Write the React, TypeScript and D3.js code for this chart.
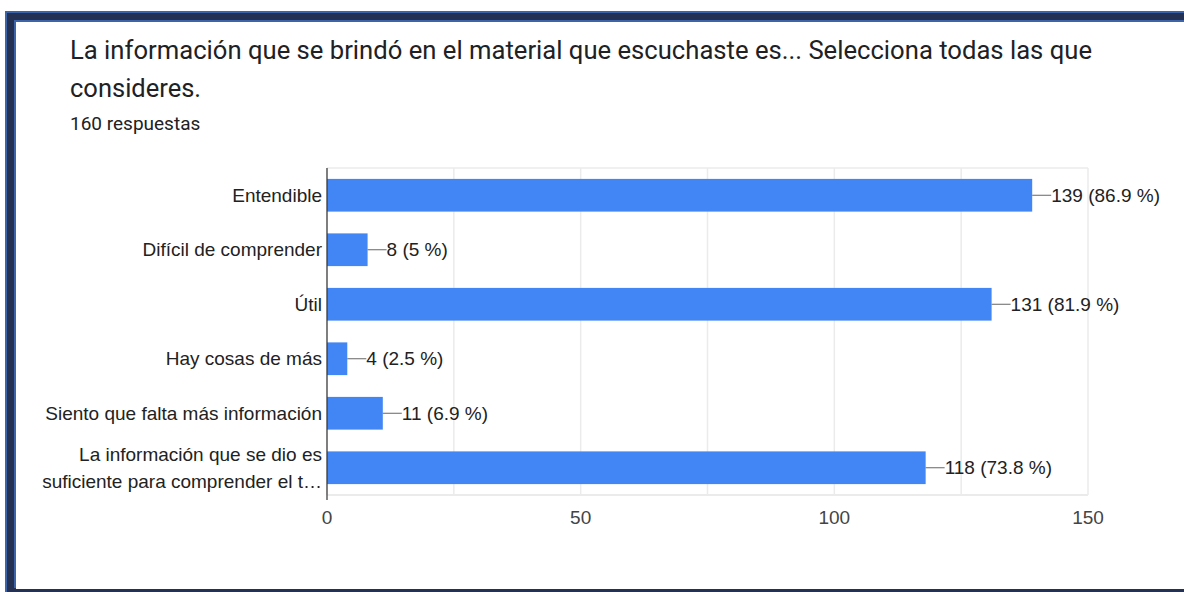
import React from "react";
import * as d3 from "d3";

const categories: string[][] = [
  ["Entendible"],
  ["Difícil de comprender"],
  ["Útil"],
  ["Hay cosas de más"],
  ["Siento que falta más información"],
  ["La información que se dio es", "suficiente para comprender el t…"],
];
const counts = [139, 8, 131, 4, 11, 118];
const percents = ["86.9", "5", "81.9", "2.5", "6.9", "73.8"];
const tickValues = [0, 50, 100, 150];
const gridValues = [0, 25, 50, 75, 100, 125, 150];
const titleLines = [
  "La información que se brindó en el material que escuchaste es... Selecciona todas las que",
  "consideres.",
];
const subtitle = "160 respuestas";

const W = 1184;
const H = 592;

export default function App() {
  const x = d3.scaleLinear().domain([0, 150]).range([327, 1088]);
  const y = d3
    .scaleBand<number>()
    .domain(d3.range(categories.length))
    .range([168, 495])
    .paddingInner(0.4)
    .paddingOuter(0.2);
  const labelFont = "Arial, 'Liberation Sans', sans-serif";
  const titleFont = "Roboto, 'Noto Sans', sans-serif";

  return (
    <svg
      width={W}
      height={H}
      style={{ position: "absolute", left: 0, top: 0, background: "#fff" }}
    >
      {/* frame */}
      <rect x={5} y={11} width={1200} height={590} fill="#3d63a8" />
      <rect x={7} y={13} width={1200} height={590} fill="#243152" />
      <rect x={14} y={20} width={1200} height={568} fill="#3d63a8" />
      <rect x={16} y={22} width={1200} height={567} fill="#ffffff" />

      {/* title */}
      <text
        x={70}
        y={59}
        fontFamily={titleFont}
        fontSize={25.5}
        fill="#202124"
        textLength={1022}
        lengthAdjust="spacingAndGlyphs"
      >
        {titleLines[0]}
      </text>
      <text x={70} y={97} fontFamily={titleFont} fontSize={25.5} fill="#202124">
        {titleLines[1]}
      </text>
      <text x={70} y={130} fontFamily={titleFont} fontSize={19} fill="#202124">
        {subtitle}
      </text>

      {/* gridlines */}
      {gridValues.map((v) => (
        <line
          key={v}
          x1={x(v)}
          x2={x(v)}
          y1={168}
          y2={495}
          stroke="#ebebeb"
          strokeWidth={1.5}
        />
      ))}
      <line x1={327} x2={x(150)} y1={168} y2={168} stroke="#ebebeb" strokeWidth={1.5} />
      <line x1={327} x2={x(150)} y1={495} y2={495} stroke="#ebebeb" strokeWidth={2} />

      {/* bars */}
      {counts.map((c, i) => {
        const by = y(i)!;
        const bh = y.bandwidth();
        const xe = x(c);
        const cy = by + bh / 2;
        return (
          <g key={i}>
            <rect x={x(0)} y={by} width={xe - x(0)} height={bh} fill="#4285f4" />
            <line x1={xe} x2={xe + 19} y1={cy} y2={cy} stroke="#666" strokeWidth={1} />
            <text
              x={xe + 19}
              y={cy}
              dy="0.35em"
              fontFamily={labelFont}
              fontSize={19}
              fill="#222"
            >
              {`${c} (${percents[i]} %)`}
            </text>
          </g>
        );
      })}

      {/* zero axis */}
      <line x1={x(0)} x2={x(0)} y1={168} y2={500} stroke="#333" strokeWidth={1.2} />

      {/* category labels */}
      {categories.map((lines, i) => {
        const cy = y(i)! + y.bandwidth() / 2;
        const n = lines.length;
        return (
          <text
            key={i}
            x={322}
            textAnchor="end"
            fontFamily={labelFont}
            fontSize={19}
            fill="#222"
          >
            {lines.map((l, j) => (
              <tspan key={j} x={322} y={cy + (j - (n - 1) / 2) * 27} dy="0.35em">
                {l}
              </tspan>
            ))}
          </text>
        );
      })}

      {/* x tick labels */}
      {tickValues.map((v) => (
        <text
          key={v}
          x={x(v)}
          y={524}
          textAnchor="middle"
          fontFamily={labelFont}
          fontSize={19}
          fill="#444"
        >
          {v}
        </text>
      ))}
    </svg>
  );
}
